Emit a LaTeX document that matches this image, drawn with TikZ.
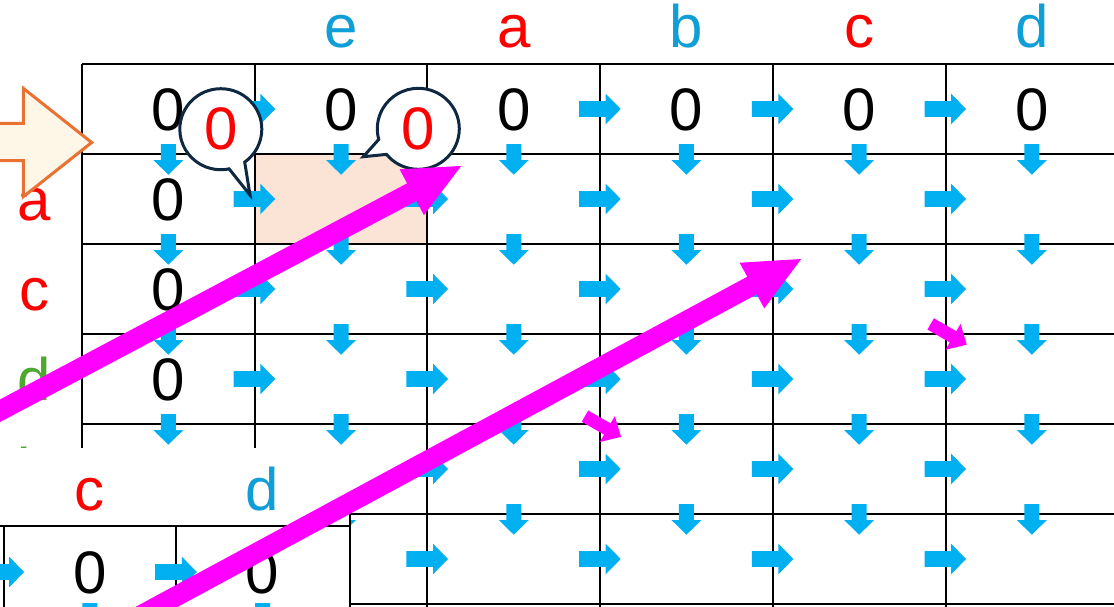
\documentclass[tikz,border=0pt]{standalone}
\usepackage{fontspec}
\setmainfont{Liberation Sans}
\usepackage{xcolor}
\usetikzlibrary{arrows.meta,shapes.callouts}
\definecolor{arrcyan}{HTML}{00B0F0}
\definecolor{hdcyan}{HTML}{0F9ED5}
\definecolor{hdred}{HTML}{FF0000}
\definecolor{hdgreen}{HTML}{4EA72E}
\definecolor{peach}{HTML}{FBE3D6}
\definecolor{cream}{HTML}{FEF6E6}
\definecolor{orng}{HTML}{E97132}
\definecolor{navy}{HTML}{0E2841}
\definecolor{mag}{HTML}{FF00FF}
\tikzset{
  val/.style={font=\fontsize{60}{72}\selectfont, anchor=base, inner sep=0pt},
  hd/.style={val, text=#1},
  hd/.default=hdcyan,
  gridline/.style={line width=2pt, black},
  bubble/.style={ellipse callout, draw=navy, fill=white, line width=3pt,
    minimum width=82pt, minimum height=81pt, inner sep=0pt,
    callout pointer arc=24, font=\fontsize{60}{72}\selectfont, text=red},
  bigarrow/.style={-{Triangle[length=58pt,width=47pt]}, line width=20pt, mag},
  startarrow/.style={draw=orng, fill=cream, line width=3pt, line join=miter},
  % block arrows
  rblk/.pic={\fill[arrcyan] (-21,-7.8) -- (5.6,-7.8) -- (5.6,-15.3) -- (20.6,0)
    -- (5.6,15.3) -- (5.6,7.8) -- (-21,7.8) -- cycle;},
  dblk/.pic={\fill[arrcyan] (-7.5,-10) -- (7.5,-10) -- (7.5,6) -- (15,6)
    -- (0,20.7) -- (-15,6) -- (-7.5,6) -- cycle;},
  mblk/.pic={\fill[mag] (-20.8,-6.5) -- (5,-6.5) -- (5,-15) -- (20.8,0)
    -- (5,15) -- (5,6.5) -- (-20.8,6.5) -- cycle;},
}

\begin{document}
\begin{tikzpicture}[x=1pt, y=-1pt]
  \useasboundingbox (0,0) rectangle (1114,606);
  \clip (0,0) rectangle (1114,606);

  % highlighted cell
  \fill[peach] (254.7,154) rectangle (427.4,244);

  % table grid
  \foreach \r in {0,...,6}
    \draw[gridline] (82,{64+90*\r}) -- (1120,{64+90*\r});
  \foreach \c in {0,...,6}
    \draw[gridline] ({82+172.7*\c},64) -- ({82+172.7*\c},612);

  % column headers
  \foreach \t/\cl [count=\c] in {e/hdcyan,a/hdred,b/hdcyan,c/hdred,d/hdcyan}
    \node[hd=\cl] (col\c) at ({168.35+172.7*\c},47) {\t};

  % row headers
  \foreach \t/\cl [count=\r] in {a/hdred,c/hdred,d/hdgreen,b/hdgreen}
    \node[hd=\cl] (row\r) at (34.5,{130.7+90*\r}) {\t};

  % first row and first column
  \foreach \c in {0,...,5}
    \node[val] (v0\c) at ({168.35+172.7*\c},130.7) {0};
  \foreach \r in {1,...,4}
    \node[val] (v\r0) at (168.35,{130.7+90*\r}) {0};

  % cyan block arrows
  \foreach \r in {0,...,5}
    \foreach \c in {1,...,5}
      \pic at ({82+172.7*\c},{109+90*\r}) {rblk};
  \foreach \r in {1,...,5}
    \foreach \c in {0,...,5}
      \pic at ({168.35+172.7*\c},{64+90*\r}) {dblk};

  % start arrow
  \draw[startarrow] (-10,123.3) -- (23.3,123.3) -- (23.3,88.3) -- (91.7,142.5)
    -- (23.3,196.7) -- (23.3,160.5) -- (-10,160.5) -- cycle;

  % callouts
  \node[bubble, callout absolute pointer={(250,195)}] (bub1) at (220.8,129.2) {0};
  \node[bubble, callout absolute pointer={(363.3,156.7)}] (bub2) at (418.3,128.8) {0};

  % inset table
  \fill[white] (0,448) rectangle (350,620);
  \node[hd=hdred] (ic) at (89.8,510) {c};
  \node[hd] (id) at (262.5,510) {d};
  \draw[gridline] (0,526) -- (349.5,526);
  \draw[gridline] (3.5,526) -- (3.5,620);
  \draw[gridline] (176.2,526) -- (176.2,620);
  \draw[gridline] (349.5,513) -- (349.5,620);
  \node[val] (i1) at (89.8,593.3) {0};
  \node[val] (i2) at (262.5,593.3) {0};
  \foreach \x in {3.5,176.2}
    \pic at (\x,572) {rblk};
  \foreach \x in {89.8,262.5}
    \pic at (\x,613) {dblk};

  % diagonal arrows
  \pic[rotate=-30] at (948.7,334.3) {mblk};
  \pic[rotate=-30] at (603,426.5) {mblk};
  \coordinate (m1s) at (-40,432);
  \coordinate (m1e) at (463,165);
  \coordinate (m2s) at (60,659);
  \coordinate (m2e) at (803,258);
  \draw[bigarrow] (m1s) -- (m1e);
  \draw[bigarrow] (m2s) -- (m2e);
\end{tikzpicture}
\end{document}
